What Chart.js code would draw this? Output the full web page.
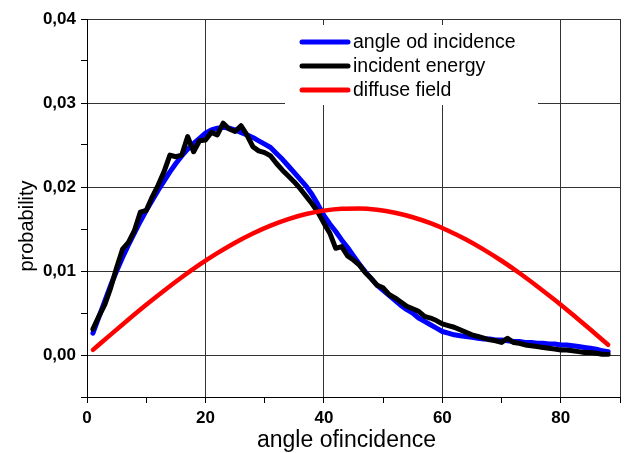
<!DOCTYPE html>
<html>
<head>
<meta charset="utf-8">
<script src="https://cdn.jsdelivr.net/npm/chart.js@4.4.1/dist/chart.umd.min.js"></script>
<style>
  html, body { margin: 0; padding: 0; background: #fff; }
  #wrap { width: 630px; height: 453px; }
</style>
</head>
<body>
<div id="wrap"><canvas id="probChart" width="630" height="453"></canvas></div>
<script>
// angles in degrees
const angles = [
  1, 2, 3, 4, 5, 6, 7, 8, 9, 10, 11, 12, 13, 14, 15, 16, 17, 18, 19, 20, 21, 22,
  23, 24, 25, 26, 27, 28, 29, 30, 31, 32, 33, 34, 35, 36, 37, 38, 39, 40, 41, 42, 43, 44,
  45, 46, 47, 48, 49, 50, 51, 52, 53, 54, 55, 56, 57, 58, 59, 60, 61, 62, 63, 64, 65, 66,
  67, 68, 69, 70, 71, 72, 73, 74, 75, 76, 77, 78, 79, 80, 81, 82, 83, 84, 85, 86, 87, 88
];

const angleOfIncidence = [
  0.0026, 0.0045, 0.0064, 0.0083, 0.0100, 0.0116, 0.0131, 0.0145, 0.0159, 0.0172, 0.0184,
  0.0196, 0.0207, 0.0218, 0.0228, 0.0237, 0.0245, 0.0252, 0.0258, 0.0264, 0.0268, 0.0270,
  0.0271, 0.0270, 0.0268, 0.0265, 0.0262, 0.0259, 0.0255, 0.0251, 0.0247, 0.0240, 0.0233,
  0.0225, 0.0217, 0.0209, 0.0201, 0.0191, 0.0179, 0.0166, 0.0156, 0.0147, 0.0137, 0.0128,
  0.0118, 0.0108, 0.0099, 0.0091, 0.0083, 0.0077, 0.0071, 0.0065, 0.0059, 0.0054, 0.0050,
  0.0044, 0.0040, 0.0036, 0.0032, 0.0028, 0.0026, 0.0024, 0.0023, 0.0022, 0.0021, 0.0020,
  0.0019, 0.0019, 0.0018, 0.0018, 0.0017, 0.0016, 0.0016, 0.0015, 0.0015, 0.0014, 0.0014,
  0.0013, 0.0013, 0.0012, 0.0012, 0.0011, 0.0010, 0.0009, 0.0008, 0.0007, 0.0005, 0.0004
];

const incidentEnergy = [
  0.0031, 0.0046, 0.0060, 0.0080, 0.0104, 0.0126, 0.0134, 0.0148, 0.0170, 0.0172, 0.0188,
  0.0202, 0.0218, 0.0238, 0.0236, 0.0238, 0.0260, 0.0242, 0.0255, 0.0256, 0.0265, 0.0262,
  0.0276, 0.0269, 0.0266, 0.0273, 0.0262, 0.0248, 0.0243, 0.0241, 0.0237, 0.0228, 0.0220,
  0.0213, 0.0206, 0.0198, 0.0189, 0.0180, 0.0170, 0.0157, 0.0145, 0.0127, 0.0129, 0.0118,
  0.0113, 0.0107, 0.0098, 0.0091, 0.0083, 0.0080, 0.0072, 0.0068, 0.0063, 0.0058, 0.0055,
  0.0052, 0.0046, 0.0044, 0.0041, 0.0037, 0.0035, 0.0033, 0.0030, 0.0027, 0.0024, 0.0022,
  0.0020, 0.0018, 0.0017, 0.0015, 0.0020, 0.0015, 0.0014, 0.0012, 0.0011, 0.0010, 0.0009,
  0.0008, 0.0007, 0.0006, 0.0006, 0.0005, 0.0004, 0.0003, 0.0003, 0.0002, 0.0001, 0.0001
];

// diffuse field, sampled every 3 degrees
const diffuseAngles = [1, 4, 7, 10, 13, 16, 19, 22, 25, 28, 31, 34, 37, 40, 43, 46, 49, 52, 55, 58, 61, 64, 67, 70, 73, 76, 79, 82, 85, 88];
const diffuseField = [
  0.00061, 0.00243, 0.00422, 0.00597, 0.00765, 0.00925, 0.01075, 0.01212, 0.01337, 0.01447,
  0.01541, 0.01618, 0.01678, 0.01719, 0.01741, 0.01744, 0.01728, 0.01693, 0.01640, 0.01569,
  0.01480, 0.01375, 0.01255, 0.01122, 0.00976, 0.00819, 0.00654, 0.00481, 0.00303, 0.00122
];

const seriesNames = ['angle od incidence', 'incident energy', 'diffuse field'];
const xTitle = 'angle ofincidence';
const yTitle = 'probability';

const FONT = '"Liberation Sans", Arial, sans-serif';
const toPoints = (xs, ys) => xs.map((x, i) => ({ x: x, y: ys[i] }));
const isMajor = (v, step) => Math.abs(v / step - Math.round(v / step)) < 1e-6;

// legend drawn as a white box inside the plot
const boxLegend = {
  id: 'boxLegend',
  afterDraw(chart) {
    const c = chart.ctx;
    c.save();
    c.fillStyle = '#fff';
    c.fillRect(285, 25, 253, 80);
    c.font = '19.5px ' + FONT;
    c.textBaseline = 'middle';
    c.lineCap = 'round';
    chart.data.datasets.forEach((ds, i) => {
      const y = 42 + i * 24;
      c.strokeStyle = ds.borderColor;
      c.lineWidth = 5;
      c.beginPath();
      c.moveTo(302, y);
      c.lineTo(348, y);
      c.stroke();
      c.fillStyle = '#000';
      c.fillText(ds.label, 353, y + 1);
    });
    c.restore();
  }
};

// axis titles, placed a bit off-centre like the original
const axisTitles = {
  id: 'axisTitles',
  afterDraw(chart) {
    const c = chart.ctx;
    const area = chart.chartArea;
    c.save();
    c.fillStyle = '#000';
    c.textAlign = 'center';
    c.textBaseline = 'alphabetic';
    c.font = '23px ' + FONT;
    c.fillText(xTitle, (area.left + area.right) / 2 - 7, 447);
    c.font = '20px ' + FONT;
    c.translate(33, (area.top + area.bottom) / 2 + 18);
    c.rotate(-Math.PI / 2);
    c.fillText(yTitle, 0, 0);
    c.restore();
  }
};

const ctx = document.getElementById('probChart').getContext('2d');
const probChart = new Chart(ctx, {
  type: 'line',
  data: {
    datasets: [
      {
        label: seriesNames[0],
        data: toPoints(angles, angleOfIncidence),
        borderColor: '#0000ff',
        borderWidth: 5,
        order: 3
      },
      {
        label: seriesNames[1],
        data: toPoints(angles, incidentEnergy),
        borderColor: '#000000',
        borderWidth: 5,
        order: 2
      },
      {
        label: seriesNames[2],
        data: toPoints(diffuseAngles, diffuseField),
        borderColor: '#ff0000',
        borderWidth: 4.5,
        cubicInterpolationMode: 'monotone',
        order: 1
      }
    ]
  },
  options: {
    responsive: false,
    animation: false,
    layout: { padding: { top: 19, right: 10, left: 0, bottom: 0 } },
    elements: {
      point: { radius: 0 },
      line: { fill: false, borderJoinStyle: 'round', borderCapStyle: 'round', tension: 0 }
    },
    plugins: {
      legend: { display: false },
      tooltip: { enabled: false }
    },
    scales: {
      x: {
        type: 'linear',
        min: 0,
        max: 90,
        afterFit(scale) { scale.height = 56; },
        ticks: {
          stepSize: 10,
          autoSkip: false,
          maxRotation: 0,
          padding: 5,
          color: '#000',
          font: { family: FONT, size: 17, weight: 'bold' },
          callback: (v) => (isMajor(v, 20) ? String(v) : '')
        },
        grid: {
          color: (c) => (c.tick && c.tick.value > 0 && (isMajor(c.tick.value, 20) || c.tick.value === 90) ? '#333' : 'rgba(0,0,0,0)'),
          tickColor: '#000',
          tickLength: 6,
          lineWidth: 1
        },
        border: { display: true, color: '#000', width: 1 },
        title: { display: false, text: xTitle }
      },
      y: {
        min: -0.005,
        max: 0.04,
        afterFit(scale) { scale.width = 87; },
        ticks: {
          stepSize: 0.005,
          autoSkip: false,
          padding: 5,
          color: '#000',
          font: { family: FONT, size: 17, weight: 'bold' },
          callback: (v) => (isMajor(v, 0.01) ? Math.abs(v).toFixed(2).replace('.', ',') : '')
        },
        grid: {
          color: (c) => (c.tick && isMajor(c.tick.value, 0.01) ? '#333' : 'rgba(0,0,0,0)'),
          tickColor: '#000',
          tickLength: 6,
          lineWidth: 1
        },
        border: { display: true, color: '#000', width: 1 },
        title: { display: false, text: yTitle }
      }
    }
  },
  plugins: [boxLegend, axisTitles]
});
</script>
</body>
</html>
